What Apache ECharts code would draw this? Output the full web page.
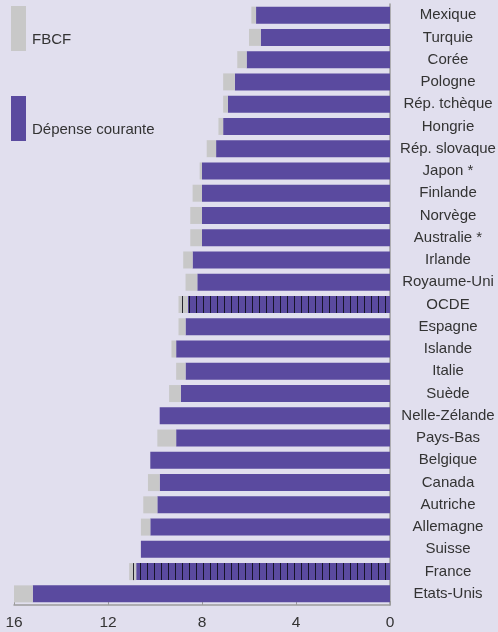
<!DOCTYPE html>
<html><head><meta charset="utf-8">
<script src="https://cdn.jsdelivr.net/npm/echarts@6/dist/echarts.min.js"></script>
<style>html,body{margin:0;padding:0;background:#e1dfee;overflow:hidden;}#c{width:498px;height:632px;}</style>
</head><body><div id="c"></div>
<script>
var categories = ['Mexique','Turquie','Corée','Pologne','Rép. tchèque','Hongrie','Rép. slovaque','Japon *','Finlande','Norvège','Australie *','Irlande','Royaume-Uni','OCDE','Espagne','Islande','Italie','Suède','Nelle-Zélande','Pays-Bas','Belgique','Canada','Autriche','Allemagne','Suisse','France','Etats-Unis'];
var courante = [5.7, 5.5, 6.1, 6.6, 6.9, 7.1, 7.4, 8.0, 8.0, 8.0, 8.0, 8.4, 8.2, 8.6, 8.7, 9.1, 8.7, 8.9, 9.8, 9.1, 10.2, 9.8, 9.9, 10.2, 10.6, 10.8, 15.2];
var fbcf = [0.2, 0.5, 0.4, 0.5, 0.2, 0.2, 0.4, 0.1, 0.4, 0.5, 0.5, 0.4, 0.5, 0.4, 0.3, 0.2, 0.4, 0.5, 0, 0.8, 0, 0.5, 0.6, 0.4, 0, 0.3, 0.8];
var hatched = ['OCDE', 'France'];
var xTicks = [0, 4, 8, 12, 16];

var FONT = '"Liberation Sans", Arial, sans-serif';
var decal = {symbol: 'rect', symbolSize: 1, dashArrayX: [1, 6], dashArrayY: [10, 0], color: 'rgba(10,10,20,0.85)', rotation: 0};
function build(vals) {
  return vals.map(function (v, i) {
    var d = {value: v};
    if (hatched.indexOf(categories[i]) >= 0) d.itemStyle = {decal: decal};
    return d;
  });
}
var chart = echarts.init(document.getElementById('c'), null, {renderer: 'canvas'});
chart.setOption({
  backgroundColor: '#e1dfee',
  animation: false,
  legend: {
    orient: 'vertical', left: 11, top: 6, padding: 0,
    itemWidth: 15, itemHeight: 45, itemGap: 45,
    data: ['FBCF', 'Dépense courante'],
    icon: 'rect',
    formatter: '{a|{name}}',
    textStyle: {fontFamily: FONT, fontSize: 15, color: '#333',
      rich: {a: {fontFamily: FONT, fontSize: 15, color: '#333', padding: [22, 0, 0, 1]}}}
  },
  grid: {left: 14, right: 108, top: 4, bottom: 27, containLabel: false, outerBoundsMode: 'none'},
  xAxis: {
    type: 'value', inverse: true, min: xTicks[0], max: xTicks[xTicks.length - 1], interval: 4,
    splitLine: {show: false},
    axisLine: {show: true, lineStyle: {color: '#9c9c9c', width: 1.5}},
    axisTick: {show: true, inside: true, length: 4, lineStyle: {color: '#9c9c9c'}},
    axisLabel: {fontFamily: FONT, fontSize: 15.5, color: '#333', margin: 10}
  },
  yAxis: {
    type: 'category', inverse: true, position: 'right', data: categories,
    axisLine: {show: true, lineStyle: {color: '#9c9c9c', width: 1.5}},
    axisTick: {show: false},
    axisLabel: {fontFamily: FONT, fontSize: 15, color: '#333', align: 'center', margin: 58, interval: 0}
  },
  series: [
    {name: 'Dépense courante', type: 'bar', stack: 't', barWidth: 17, itemStyle: {color: '#5a4a9f'}, data: build(courante)},
    {name: 'FBCF', type: 'bar', stack: 't', barWidth: 17, itemStyle: {color: '#c8c8c8'}, data: build(fbcf)}
  ]
});
</script></body></html>
